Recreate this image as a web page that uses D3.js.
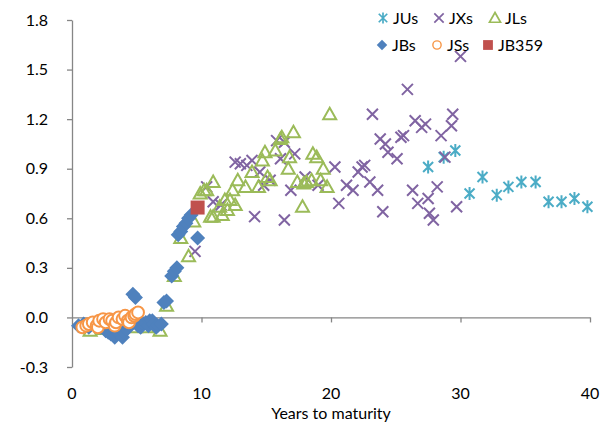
<!DOCTYPE html>
<html>
<head>
<meta charset="utf-8">
<script src="https://cdn.jsdelivr.net/npm/d3@7/dist/d3.min.js"></script>
<style>
  body { margin: 0; background: #fff; }
  svg text { font-family: Lato, "Open Sans", sans-serif; fill: #000; }
</style>
</head>
<body>
<div id="chart"></div>
<script>
// series data: [years to maturity, value]
const JUs = [[27.5, 0.91], [28.7, 0.97], [29.6, 1.01], [30.7, 0.75], [31.7, 0.85], [32.8, 0.74],
  [33.7, 0.79], [34.7, 0.82], [35.8, 0.82], [36.8, 0.70], [37.8, 0.70], [38.8, 0.72], [39.8, 0.67]]

const JXs = [[9.5, 0.40], [10.4, 0.79], [10.9, 0.70], [11.5, 0.68], [12.6, 0.94], [13.0, 0.93],
  [13.5, 0.92], [13.9, 0.95], [14.1, 0.61], [14.5, 0.88], [14.8, 0.80], [15.3, 0.83], [15.8, 1.07],
  [16.1, 0.96], [16.4, 1.06], [16.4, 0.59], [16.9, 0.77], [17.2, 0.99], [18.0, 0.85], [19.0, 0.80],
  [20.3, 0.91], [20.6, 0.69], [21.2, 0.80], [21.7, 0.77], [22.1, 0.88], [22.4, 0.91], [22.6, 0.92],
  [23.0, 0.82], [23.2, 1.23], [23.6, 0.77], [23.8, 1.08], [24.0, 0.64], [24.2, 1.05], [24.4, 1.00],
  [25.1, 0.96], [25.4, 1.09], [25.6, 1.10], [25.9, 1.38], [26.3, 0.77], [26.5, 1.19], [26.7, 0.69],
  [27.0, 1.15], [27.3, 1.17], [27.5, 0.72], [27.6, 0.63], [27.9, 0.59], [28.2, 0.79], [28.5, 1.10],
  [28.8, 0.97], [29.3, 1.16], [29.4, 1.23], [29.7, 0.67], [30.0, 1.58]]

const JLs = [[1.4, -0.08], [2.5, -0.07], [3.5, -0.06], [4.9, -0.06], [5.8, -0.06], [6.8, -0.08],
  [7.3, 0.07], [7.9, 0.25], [8.4, 0.48], [9.0, 0.37], [9.4, 0.58], [9.9, 0.75], [10.2, 0.77],
  [10.4, 0.77], [10.7, 0.61], [10.9, 0.82], [10.9, 0.61], [11.4, 0.67], [11.6, 0.62], [11.8, 0.71],
  [12.0, 0.65], [12.2, 0.71], [12.4, 0.77], [12.6, 0.68], [12.8, 0.83], [13.4, 0.79], [13.9, 0.88],
  [14.4, 0.79], [14.7, 0.95], [14.9, 1.00], [15.1, 0.85], [15.3, 0.83], [15.7, 1.01], [16.1, 1.08],
  [16.2, 1.09], [16.7, 0.90], [16.8, 0.97], [17.1, 1.12], [17.4, 0.82], [17.8, 0.67], [17.9, 0.81],
  [18.1, 0.82], [18.5, 0.83], [18.6, 0.99], [18.9, 0.97], [19.2, 0.83], [19.4, 0.90], [19.7, 0.79],
  [19.9, 1.23]]

const JBs = [[0.5, -0.05], [0.9, -0.04], [1.3, -0.06], [1.7, -0.04], [2.2, -0.06], [2.6, -0.08],
  [2.8, -0.09], [3.0, -0.10], [3.3, -0.12], [3.4, -0.08], [3.6, -0.09], [3.9, -0.12], [4.0, -0.09],
  [4.2, -0.07], [4.5, -0.05], [4.7, 0.14], [4.9, 0.12], [5.1, -0.05], [5.3, -0.06], [5.4, -0.03],
  [5.7, -0.03], [5.9, -0.05], [6.0, -0.02], [6.2, -0.02], [6.3, -0.04], [6.5, -0.06], [6.6, -0.05],
  [6.9, -0.04], [7.1, 0.09], [7.3, 0.10], [7.7, 0.25], [7.9, 0.28], [8.1, 0.30], [8.2, 0.50],
  [8.4, 0.52], [8.6, 0.55], [8.8, 0.57], [9.0, 0.60], [9.2, 0.62], [9.7, 0.48]]

const JSs = [[0.8, -0.06], [1.1, -0.05], [1.3, -0.04], [1.6, -0.03], [1.9, -0.05], [2.0, -0.06],
  [2.1, -0.02], [2.4, -0.01], [2.6, -0.03], [2.9, -0.01], [3.1, -0.02], [3.3, -0.05], [3.4, -0.03],
  [3.6, 0.00], [3.9, -0.01], [4.1, 0.01], [4.3, -0.02], [4.4, -0.03], [4.6, 0.00], [4.8, 0.01],
  [4.9, 0.02], [5.1, 0.03]]

const JB359 = [[9.7, 0.665]]

const xTicks = [0, 10, 20, 30, 40]
const yTicks = [-0.3, 0.0, 0.3, 0.6, 0.9, 1.2, 1.5, 1.8]

const width = 614, height = 425
const plot = { left: 72, right: 590, top: 20, bottom: 367 }

const x = d3.scaleLinear().domain([0, 40]).range([plot.left, plot.right])
const y = d3.scaleLinear().domain([-0.3, 1.8]).range([plot.bottom, plot.top])

const svg = d3.select('#chart').append('svg')
  .attr('width', width)
  .attr('height', height)

const axisColor = '#868686'

// y axis
const yAxis = svg.append('g')
  .attr('transform', `translate(${plot.left},0)`)
  .call(d3.axisLeft(y).tickValues(yTicks).tickSize(5).tickSizeOuter(0)
    .tickFormat(d => d.toFixed(1)))
yAxis.select('.domain').attr('stroke', axisColor).attr('stroke-width', 1.3)
yAxis.selectAll('.tick line').attr('stroke', axisColor).attr('stroke-width', 1.3)
yAxis.selectAll('.tick text')
  .attr('x', -24)
  .attr('font-size', 16)
  .style('font-family', 'Lato, sans-serif')
  .attr('fill', '#000')

// x axis crosses at y = 0, labels sit at the bottom
const xAxis = svg.append('g')
  .attr('transform', `translate(0,${y(0)})`)
  .call(d3.axisBottom(x).tickValues(xTicks.slice(1)).tickSize(5).tickSizeOuter(0).tickFormat(''))
xAxis.select('.domain').attr('stroke', axisColor).attr('stroke-width', 1.3)
xAxis.selectAll('.tick line').attr('stroke', axisColor).attr('stroke-width', 1.3)

svg.append('g').selectAll('text')
  .data(xTicks)
  .join('text')
  .attr('x', d => x(d))
  .attr('y', 399)
  .attr('text-anchor', 'middle')
  .attr('font-size', 16)
  .text(d => d)

svg.append('text')
  .attr('x', x(20))
  .attr('y', 419)
  .attr('text-anchor', 'middle')
  .attr('font-size', 16)
  .text('Years to maturity')

// marker shapes
const shapes = {
  star: 'M0,-6.5L0,6.5M-5,-5L5,5M-5,5L5,-5',
  cross: 'M-5.5,-5.5L5.5,5.5M-5.5,5.5L5.5,-5.5',
  triangle: 'M0,-6.5L6.5,5L-6.5,5Z',
  diamond: 'M0,-7.5L7.5,0L0,7.5L-7.5,0Z',
  circle: d3.symbol(d3.symbolCircle, 110)(),
  square: 'M-7,-7L7,-7L7,7L-7,7Z'
}

const series = [
  { name: 'JUs', data: JUs, shape: 'star', stroke: '#4BACC6', fill: 'none', sw: 2 },
  { name: 'JXs', data: JXs, shape: 'cross', stroke: '#8064A2', fill: 'none', sw: 2 },
  { name: 'JLs', data: JLs, shape: 'triangle', stroke: '#9BBB59', fill: 'none', sw: 2 },
  { name: 'JBs', data: JBs, shape: 'diamond', stroke: 'none', fill: '#4F81BD', sw: 0 },
  { name: 'JSs', data: JSs, shape: 'circle', stroke: '#F79646', fill: '#fff', sw: 2 },
  { name: 'JB359', data: JB359, shape: 'square', stroke: 'none', fill: '#C0504D', sw: 0 }
]

series.forEach(s => {
  svg.append('g')
    .attr('class', `series-${s.name}`)
    .selectAll('path')
    .data(s.data)
    .join('path')
    .attr('transform', d => `translate(${x(d[0])},${y(d[1])})`)
    .attr('d', shapes[s.shape])
    .attr('fill', s.fill)
    .attr('stroke', s.stroke)
    .attr('stroke-width', s.sw)
})

// legend, two rows of three
const legendPos = [[383, 18], [439, 18], [495, 18], [382, 45], [437, 45], [488, 45]]
const legend = svg.append('g').selectAll('g')
  .data(series)
  .join('g')
  .attr('transform', (d, i) => `translate(${legendPos[i][0]},${legendPos[i][1]})`)

legend.append('path')
  .attr('d', d => shapes[d.shape])
  .attr('transform', d => d.shape === 'circle' || d.shape === 'square' || d.shape === 'diamond' ? 'scale(0.7)' : 'scale(0.85)')
  .attr('fill', d => d.fill)
  .attr('stroke', d => d.stroke)
  .attr('stroke-width', d => d.sw)

legend.append('text')
  .attr('x', 10)
  .attr('y', 6)
  .attr('font-size', 16)
  .text(d => d.name)
</script>
</body>
</html>
